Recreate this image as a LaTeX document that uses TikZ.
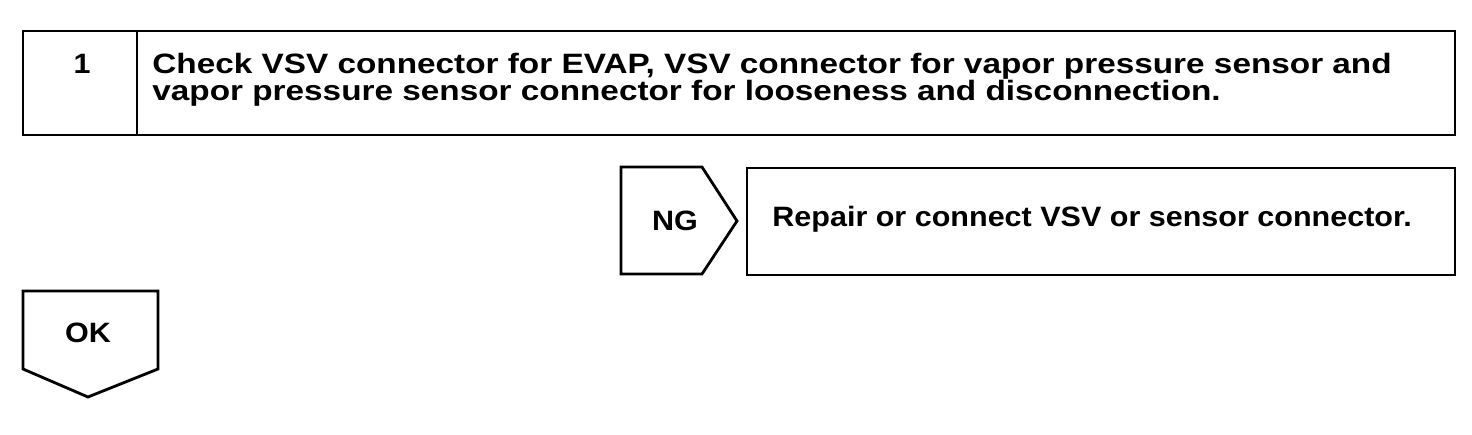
\documentclass[tikz,border=0pt]{standalone}
\usepackage{fontspec}
\setmainfont{Liberation Sans}
\newfontfamily\headfont[FakeStretch=1.19]{Liberation Sans}
\newfontfamily\stepfont[FakeStretch=1.09]{Liberation Sans}
\usetikzlibrary{positioning}

\begin{document}
\begin{tikzpicture}[x=0.5pt,y=-0.5pt,
            frame/.style={draw,line width=1.4pt,line join=miter},
            head text/.style={font=\headfont\bfseries\fontsize{14}{13.5}\selectfont,inner sep=0pt},
            step text/.style={font=\stepfont\bfseries\fontsize{14}{13.5}\selectfont,inner sep=0pt}]
            \useasboundingbox (0,0) rectangle (1472,434);
            
            % Step 1 header box
            \draw[frame] (23,31) rectangle (1455,135);
            \draw[frame] (137,31) -- (137,135);
            \node[step text,anchor=base] (num) at (82,73) {1};
            \node[head text,anchor=base west,align=left] (check) at (152,100)
                {Check VSV connector for EVAP, VSV connector for vapor pressure sensor and\\
                 vapor pressure sensor connector for looseness and disconnection.};
            
            % NG branch
            \draw[frame] (621,167) -- (702,167) -- (737,221) -- (702,274) -- (621,274) -- cycle;
            \node[step text,anchor=base] (ng) at (675,230) {NG};
            \draw[frame] (747,168) rectangle (1455,275);
            \node[step text,anchor=base west] (repair) at (772,226) {Repair or connect VSV or sensor connector.};
            
            % OK branch
            \draw[frame] (23,291) -- (158,291) -- (158,369) -- (88,397) -- (23,369) -- cycle;
            \node[step text,anchor=base] (ok) at (88,342) {OK};
        \end{tikzpicture}
\end{document}
